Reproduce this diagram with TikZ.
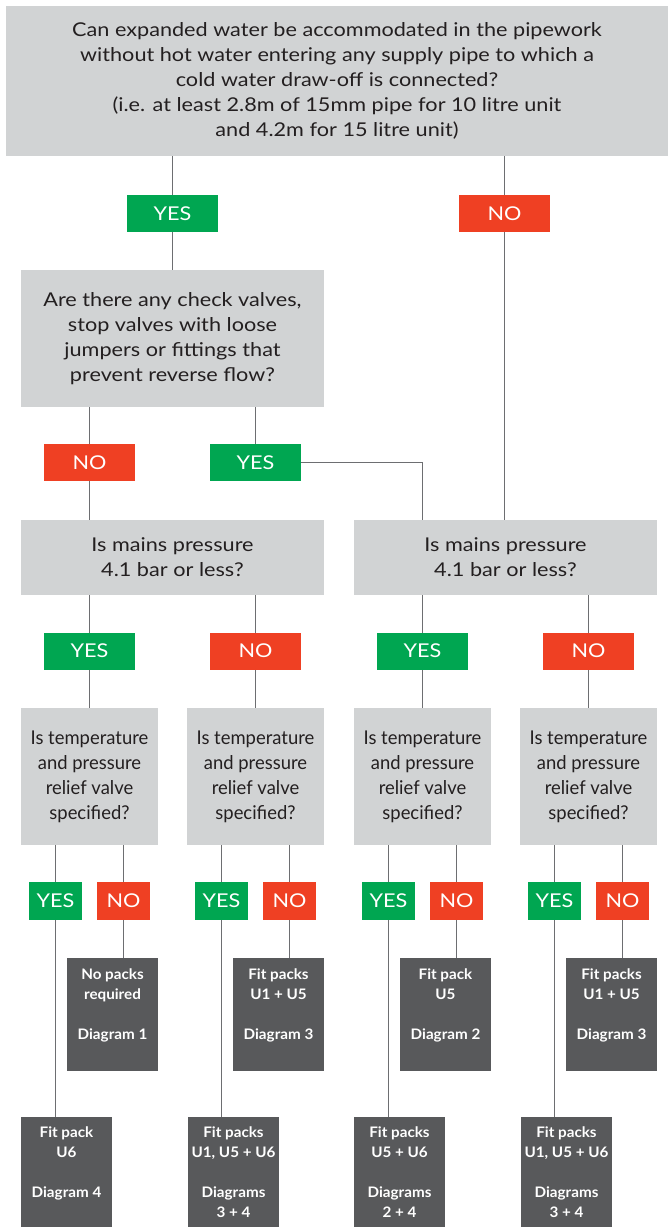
\documentclass[tikz,border=0pt]{standalone}
\usepackage{fontspec}
\setmainfont{Lato}[FakeStretch=1.14]
\newfontfamily\narrowlato{Lato}[FakeStretch=0.97]
\newfontfamily\packlato{Lato}[FakeStretch=1.05]
\usetikzlibrary{backgrounds}
\definecolor{qgray}{HTML}{D1D3D4}
\definecolor{ygreen}{HTML}{00A651}
\definecolor{nred}{HTML}{EF4023}
\definecolor{pdark}{HTML}{58595B}
\definecolor{tdark}{HTML}{231F20}
\definecolor{lgray}{HTML}{6D6E71}
\begin{document}
\begin{tikzpicture}[x=1pt,y=-1pt,
  qbox/.style={fill=qgray,text=tdark,align=center,inner sep=0pt,font=\fontsize{19}{25}\selectfont},
  tbox/.style={qbox,minimum width=137pt,minimum height=137pt,font=\narrowlato\fontsize{19}{25}\selectfont},
  yesbox/.style={fill=ygreen,text=white,minimum width=91pt,minimum height=37pt,inner sep=0pt,font=\fontsize{19}{22}\selectfont},
  nobox/.style={yesbox,fill=nred},
  yessm/.style={yesbox,minimum width=53pt,minimum height=38pt},
  nosm/.style={yessm,fill=nred},
  packbox/.style={fill=pdark,text=white,align=center,inner sep=0pt,minimum width=91pt,font=\packlato\bfseries\fontsize{14.5}{20}\selectfont},
  conn/.style={draw=lgray,line width=0.9pt}]
\useasboundingbox (0,0) rectangle (668,1227);
% questions
\node[qbox,minimum width=662pt,minimum height=150pt] (q1) at (337,81) {Can expanded water be accommodated in the pipework\\without hot water entering any supply pipe to which a\\cold water draw-off is connected?\\(i.e. at least 2.8m of 15mm pipe for 10 litre unit\\and 4.2m for 15 litre unit)};
\node[qbox,minimum width=303pt,minimum height=137pt] (q2) at (172.5,338.5) {Are there any check valves,\\stop valves with loose\\jumpers or fittings that\\prevent reverse flow?};
\node[qbox,minimum width=303pt,minimum height=75pt] (m1) at (172.5,557.5) {Is mains pressure\\4.1 bar or less?};
\node[qbox,minimum width=303pt,minimum height=75pt] (m2) at (505.5,557.5) {Is mains pressure\\4.1 bar or less?};
\node[tbox] (t1) at (89.5,776.5) {Is temperature\\and pressure\\relief valve\\specified?};
\node[tbox] (t2) at (255.5,776.5) {Is temperature\\and pressure\\relief valve\\specified?};
\node[tbox] (t3) at (422.5,776.5) {Is temperature\\and pressure\\relief valve\\specified?};
\node[tbox] (t4) at (588.5,776.5) {Is temperature\\and pressure\\relief valve\\specified?};
% answers
\node[yesbox] (y1) at (172.5,213.5) {YES};
\node[nobox] (n1) at (504.5,213.5) {NO};
\node[nobox] (n2) at (89.5,462.5) {NO};
\node[yesbox] (y2) at (255.5,462.5) {YES};
\node[yesbox] (y3) at (89.5,651) {YES};
\node[nobox] (n3) at (255.5,651) {NO};
\node[yesbox] (y4) at (422.5,651) {YES};
\node[nobox] (n4) at (588.5,651) {NO};
\node[yessm] (ys1) at (55.5,901) {YES};
\node[nosm] (ns1) at (123.5,901) {NO};
\node[yessm] (ys2) at (221.5,901) {YES};
\node[nosm] (ns2) at (289.5,901) {NO};
\node[yessm] (ys3) at (388.5,901) {YES};
\node[nosm] (ns3) at (456.5,901) {NO};
\node[yessm] (ys4) at (554.5,901) {YES};
\node[nosm] (ns4) at (622.5,901) {NO};
% packs
\node[packbox,minimum height=113pt] (p1) at (112.5,1014.5) {No packs\\required\\[20pt]Diagram 1\\\mbox{}};
\node[packbox,minimum height=113pt] (p2) at (278.5,1014.5) {Fit packs\\U1 + U5\\[20pt]Diagram 3\\\mbox{}};
\node[packbox,minimum height=113pt] (p3) at (445.5,1014.5) {Fit pack\\U5\\[20pt]Diagram 2\\\mbox{}};
\node[packbox,minimum height=113pt] (p4) at (611.5,1014.5) {Fit packs\\U1 + U5\\[20pt]Diagram 3\\\mbox{}};
\node[packbox,minimum height=110pt] (b1) at (66.5,1172) {Fit pack\\U6\\[20pt]Diagram 4\\\mbox{}};
\node[packbox,minimum height=110pt] (b2) at (233.5,1172) {Fit packs\\U1, U5 + U6\\[20pt]Diagrams\\3 + 4};
\node[packbox,minimum height=110pt] (b3) at (399.5,1172) {Fit packs\\U5 + U6\\[20pt]Diagrams\\2 + 4};
\node[packbox,minimum height=110pt] (b4) at (566.5,1172) {Fit packs\\U1, U5 + U6\\[20pt]Diagrams\\3 + 4};
% connectors
\begin{scope}[on background layer]
\path[conn] (q1.south -| y1) -- (q2.north -| y1);
\path[conn] (q1.south -| n1) -- (m2.north -| n1);
\path[conn] (q2.south -| n2) -- (m1.north -| n2);
\path[conn] (q2.south -| y2) -- (y2.center) -| (m2.north -| y4);
\path[conn] (m1.south -| y3) -- (t1.north -| y3);
\path[conn] (m1.south -| n3) -- (t2.north -| n3);
\path[conn] (m2.south -| y4) -- (t3.north -| y4);
\path[conn] (m2.south -| n4) -- (t4.north -| n4);
\path[conn] (t1.south -| ys1) -- (b1.north -| ys1);
\path[conn] (t1.south -| ns1) -- (p1.north -| ns1);
\path[conn] (t2.south -| ys2) -- (b2.north -| ys2);
\path[conn] (t2.south -| ns2) -- (p2.north -| ns2);
\path[conn] (t3.south -| ys3) -- (b3.north -| ys3);
\path[conn] (t3.south -| ns3) -- (p3.north -| ns3);
\path[conn] (t4.south -| ys4) -- (b4.north -| ys4);
\path[conn] (t4.south -| ns4) -- (p4.north -| ns4);
\end{scope}
\end{tikzpicture}
\end{document}
